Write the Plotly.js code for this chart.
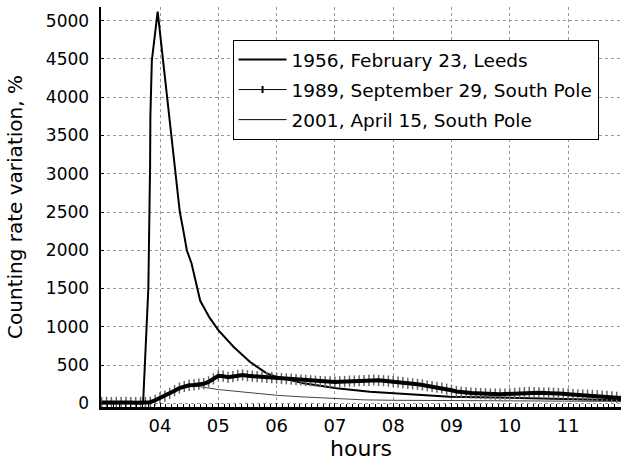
<!DOCTYPE html>
<html>
<head>
<meta charset="utf-8">
<script src="https://cdn.plot.ly/plotly-3.0.1.min.js"></script>
<style>html,body{margin:0;padding:0;background:#fff;}#chart{width:622px;height:462px;}</style>
</head>
<body>
<div id="chart"></div>
<script>
// ---- data (hours UT, counting rate variation %) ----
const seriesNames = ['1956, February 23, Leeds', '1989, September 29, South Pole', '2001, April 15, South Pole'];

const hours1956 = [3.0, 3.5, 3.71, 3.80, 3.82, 3.83, 3.835, 3.86, 3.96, 4.19, 4.26, 4.34, 4.40, 4.46, 4.54, 4.63, 4.69, 4.85, 5.0, 5.26, 5.54, 5.83, 6.0, 6.46, 7.03, 7.6, 8.46, 8.97, 9.5, 10.0, 10.5, 11.0, 11.5, 11.92];
const rate1956  = [0, 0, 0, 1500, 2400, 3100, 3750, 4480, 5120, 3560, 3005, 2500, 2260, 2000, 1830, 1560, 1340, 1120, 957, 739, 543, 391, 346, 261, 196, 152, 109, 86, 80, 70, 60, 55, 45, 40];

// 1989: 5-minute values starting 03:00
const start1989 = 3.0;
const step1989 = 5 / 60;
const rate1989 = [
  10, 12, 9, 11, 10, 12, 10, 9, 11, 10, 15, 40,
  70, 95, 130, 165, 200, 220, 235, 240, 250, 255, 280, 320,
  360, 355, 340, 350, 365, 370, 360, 355, 350, 345, 340, 335,
  330, 325, 320, 315, 310, 305, 300, 295, 290, 285, 280, 280,
  278, 282, 285, 290, 292, 295, 298, 300, 305, 300, 295, 290,
  285, 278, 270, 262, 255, 248, 240, 230, 220, 210, 200, 185,
  170, 155, 145, 140, 135, 132, 128, 125, 122, 120, 120, 122,
  125, 130, 135, 140, 145, 140, 138, 135, 135, 132, 128, 125,
  120, 115, 112, 110, 108, 105, 100, 95, 90, 85, 78, 70
];

const hours2001 = [3.0, 3.8, 3.9, 4.0, 4.1, 4.2, 4.34, 4.5, 4.69, 5.0, 5.5, 6.0, 6.4, 7.0, 7.5, 8.0, 9.0, 10.0, 11.0, 11.92];
const rate2001  = [0, 0, 30, 70, 110, 160, 210, 225, 217, 180, 140, 105, 86, 60, 45, 40, 38, 32, 28, 25];

const tickVals = [4, 5, 6, 7, 8, 9, 10, 11];
const tickText = ['04', '05', '06', '07', '08', '09', '10', '11'];
const yTickVals = [0, 500, 1000, 1500, 2000, 2500, 3000, 3500, 4000, 4500, 5000];

// ---- build ----
const hours1989 = rate1989.map((_, i) => start1989 + i * step1989);
const FONT = 'DejaVu Sans, Verdana, sans-serif';

const traces = [
  { x: hours2001, y: rate2001, mode: 'lines', line: {color: '#444', width: 1}, showlegend: false, hoverinfo: 'skip' },
  { x: hours1956, y: rate1956, mode: 'lines', line: {color: '#000', width: 2}, showlegend: false, hoverinfo: 'skip' },
  { x: hours1989, y: rate1989, mode: 'markers', marker: {symbol: 'line-ns-open', size: 8, color: '#666', line: {color: '#666', width: 1.5}}, showlegend: false, hoverinfo: 'skip' },
  { x: hours1989, y: rate1989, mode: 'lines', line: {color: '#000', width: 4}, showlegend: false, hoverinfo: 'skip' },
  // legend entries
  { x: [null], y: [null], name: seriesNames[0], legendgroup: 'a', mode: 'lines', line: {color: '#000', width: 2} },
  { x: [null], y: [null], name: seriesNames[1], legendgroup: 'b', mode: 'lines+markers', line: {color: '#000', width: 1}, marker: {symbol: 'line-ns-open', size: 5, color: '#000', line: {color: '#000', width: 2}} },
  { x: [null], y: [null], name: seriesNames[2], legendgroup: 'c', mode: 'lines', line: {color: '#000', width: 1} }
];

const layout = {
  width: 622, height: 462,
  margin: {l: 101, r: 1, t: 7, b: 55},
  paper_bgcolor: '#fff', plot_bgcolor: '#fff',
  font: {family: FONT, color: '#000', size: 18},
  showlegend: true,
  legend: {x: 0.253, y: 0.9175, xanchor: 'left', yanchor: 'top', bgcolor: '#fff', bordercolor: '#000', borderwidth: 1,
           font: {size: 18.5, family: FONT}, itemwidth: 48, traceorder: 'grouped', tracegroupgap: 3},
  xaxis: {
    range: [2.988, 11.907], tickvals: tickVals, ticktext: tickText,
    showgrid: true, gridcolor: '#999', griddash: '3px,3px', gridwidth: 1,
    zeroline: false, showline: true, linecolor: '#000', linewidth: 2.5,
    ticks: 'inside', ticklen: 4, tickcolor: '#000', ticklabelstandoff: 1,
    tickfont: {size: 18},
    minor: {dtick: 0.1, tick0: 3, ticks: 'inside', ticklen: 3, tickcolor: '#000', showgrid: false},
    title: {text: 'hours', font: {size: 22}, standoff: 3},
    fixedrange: true
  },
  xaxis2: {
    overlaying: 'x', side: 'top', range: [2.988, 11.907], tickvals: tickVals,
    showticklabels: false, showgrid: false, zeroline: false,
    showline: true, linecolor: '#000', linewidth: 1.5,
    ticks: 'inside', ticklen: 4, tickcolor: '#000'
  },
  yaxis: {
    range: [-48, 5179], tickvals: yTickVals,
    showgrid: true, gridcolor: '#999', griddash: '3px,3px', gridwidth: 1,
    zeroline: false, showline: true, linecolor: '#000', linewidth: 2.5,
    ticks: 'inside', ticklen: 3, tickcolor: '#000', ticklabelstandoff: 6,
    tickfont: {size: 17},
    title: {text: 'Counting rate variation, %', font: {size: 20}, standoff: 18},
    fixedrange: true
  }
};

Plotly.newPlot('chart', traces, layout, {staticPlot: true, displayModeBar: false});
</script>
</body>
</html>
